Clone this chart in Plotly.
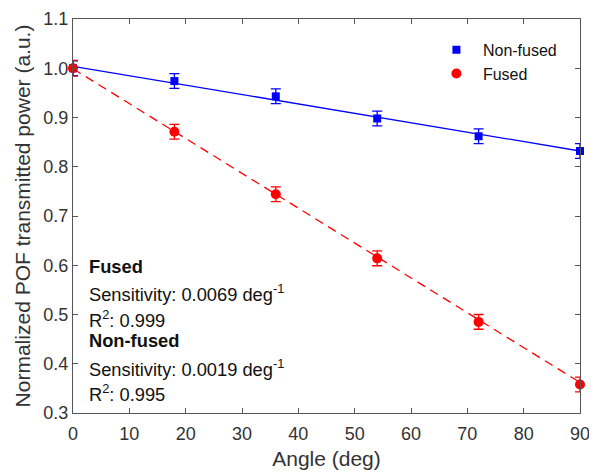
import plotly.graph_objects as go

angles = [0, 18, 36, 54, 72, 90]
nonfused = [1.0, 0.974, 0.943, 0.898, 0.862, 0.832]
fused = [1.0, 0.871, 0.744, 0.614, 0.485, 0.358]
err_nonfused = [0.015, 0.015, 0.015, 0.015, 0.015, 0.015]
err_fused = [0.016, 0.015, 0.015, 0.015, 0.015, 0.015]
fit_x = [0, 90]
fit_nonfused = [1.004, 0.832]
fit_fused = [0.999, 0.362]
xticks = [0, 10, 20, 30, 40, 50, 60, 70, 80, 90]
yticks = [0.3, 0.4, 0.5, 0.6, 0.7, 0.8, 0.9, 1.0, 1.1]

BLUE = "#0000ff"
RED = "#ff0000"
FONT = "Liberation Sans, Arial, sans-serif"

fig = go.Figure()
fig.add_trace(go.Scatter(x=fit_x, y=fit_nonfused, mode="lines",
                         line=dict(color=BLUE, width=1.3), showlegend=False, cliponaxis=False))
fig.add_trace(go.Scatter(x=fit_x, y=fit_fused, mode="lines",
                         line=dict(color=RED, width=1.3, dash="9px,6px"), showlegend=False, cliponaxis=False))
fig.add_trace(go.Scatter(x=angles, y=nonfused, mode="markers", name="Non-fused",
                         marker=dict(symbol="square", size=8, color=BLUE),
                         error_y=dict(type="data", array=err_nonfused, color=BLUE, thickness=1.3, width=5),
                         cliponaxis=False))
fig.add_trace(go.Scatter(x=angles, y=fused, mode="markers", name="Fused",
                         marker=dict(symbol="circle", size=10, color=RED),
                         error_y=dict(type="data", array=err_fused, color=RED, thickness=1.3, width=5),
                         cliponaxis=False))

lines = [
    ("<b>Fused</b>", 0.371),
    ("Sensitivity: 0.0069 deg<sup>-1</sup>", 0.304),
    ("R<sup>2</sup>: 0.999", 0.238),
    ("<b>Non-fused</b>", 0.183),
    ("Sensitivity: 0.0019 deg<sup>-1</sup>", 0.114),
    ("R<sup>2</sup>: 0.995", 0.051),
]
for txt, yy in lines:
    fig.add_annotation(text=txt, xref="paper", yref="paper", x=0.027, y=yy,
                       xanchor="left", yanchor="middle", showarrow=False,
                       font=dict(size=18.3, color="#111111", family=FONT))

axis_common = dict(showline=True, linecolor="#555555", linewidth=1.2, mirror="ticks",
                   ticks="inside", ticklen=5, tickcolor="#555555", showgrid=False,
                   zeroline=False, automargin=False,
                   tickfont=dict(size=18, color="#333333", family=FONT))

# page body has an 8px default margin, so the figure is sized/offset to compensate
fig.update_layout(
    width=589, height=465,
    margin=dict(l=65, r=17, t=10.7, b=60),
    paper_bgcolor="white", plot_bgcolor="white",
    font=dict(family=FONT, color="#333333"),
    xaxis=dict(range=[0, 90], tickvals=xticks, ticktext=[str(v) for v in xticks],
               ticklabelstandoff=4,
               title=dict(text="Angle (deg)", font=dict(size=21, color="#333333"), standoff=8),
               **axis_common),
    yaxis=dict(range=[0.3, 1.1], tickvals=yticks, ticktext=[f"{v:.1f}" for v in yticks],
               title=dict(text="Normalized POF transmitted power (a.u.)", font=dict(size=21, color="#333333"), standoff=6),
               **axis_common),
    legend=dict(x=0.704, y=0.965, xanchor="left", yanchor="top", bgcolor="rgba(0,0,0,0)",
                font=dict(size=16, color="#111111", family=FONT), itemwidth=43, tracegroupgap=2),
)

fig.write_html("out.html")
